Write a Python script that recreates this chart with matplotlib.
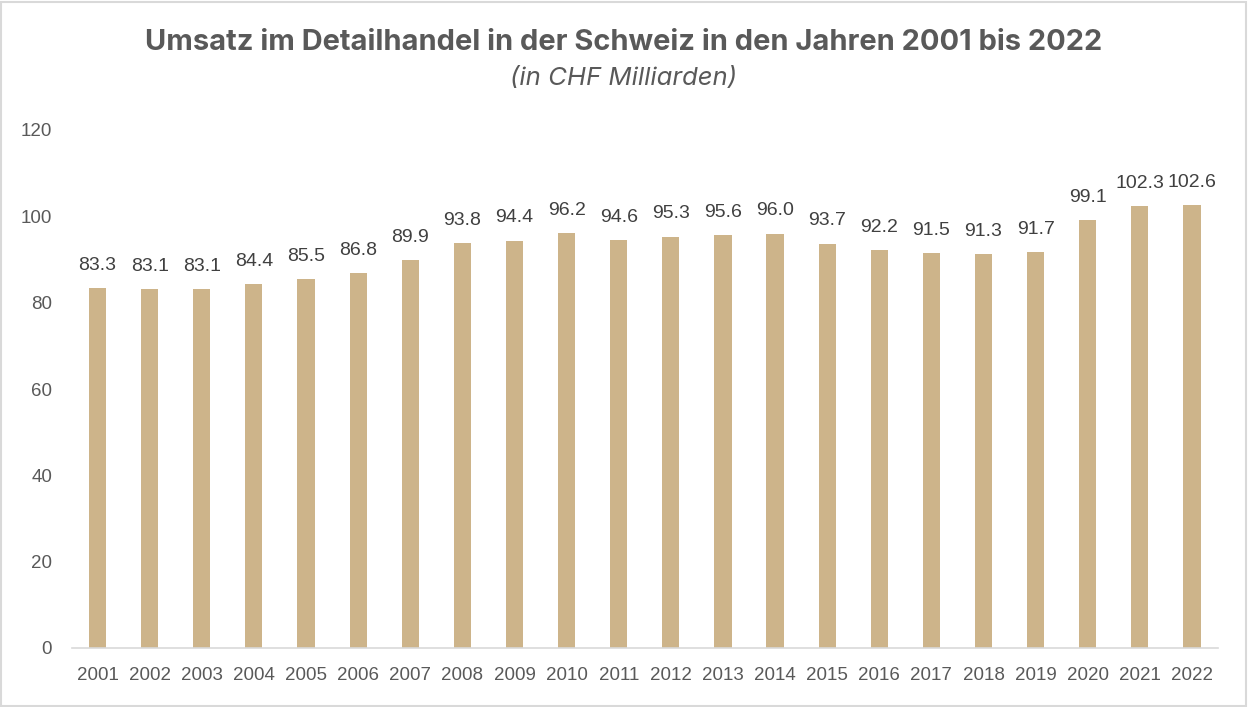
import matplotlib.pyplot as plt
from matplotlib.patches import Rectangle

years = [str(y) for y in range(2001, 2023)]
umsatz = [83.3, 83.1, 83.1, 84.4, 85.5, 86.8, 89.9, 93.8, 94.4, 96.2, 94.6,
          95.3, 95.6, 96.0, 93.7, 92.2, 91.5, 91.3, 91.7, 99.1, 102.3, 102.6]
yticks = [0, 20, 40, 60, 80, 100, 120]

bar_color = '#CDB48A'
text_color = '#595959'

fig = plt.figure(figsize=(12.48, 7.07), dpi=100)
ax = fig.add_axes([71.5 / 1248, 1 - 648 / 707, (1218 - 71.5) / 1248, (648 - 130) / 707])

x = range(len(years))
bars = ax.bar(x, umsatz, width=0.33, color=bar_color, zorder=2)
ax.set_xlim(-0.5, len(years) - 0.5)
ax.set_ylim(0, 120)

for i, v in enumerate(umsatz):
    ax.text(i, v + 4.2, f'{v:.1f}', ha='center', va='baseline',
            fontsize=14, color='#404040', family='Liberation Sans')

ax.set_xticks(list(x))
ax.set_xticklabels(years, fontsize=13.5, color=text_color, family='Liberation Sans')
ax.set_yticks(yticks)
ax.set_yticklabels([str(t) for t in yticks], fontsize=13.5, color=text_color,
                   family='Liberation Sans')
ax.tick_params(axis='both', length=0)
ax.tick_params(axis='x', pad=14)
ax.tick_params(axis='y', pad=14)

for s in ['top', 'right', 'left']:
    ax.spines[s].set_visible(False)
ax.spines['bottom'].set_color('#D9D9D9')
ax.spines['bottom'].set_linewidth(1.2)

fig.text(0.5, 1 - 42 / 707, 'Umsatz im Detailhandel in der Schweiz in den Jahren 2001 bis 2022',
         ha='center', va='center', fontsize=20.9, fontweight='bold', color=text_color,
         family='Inter')
fig.text(0.5, 1 - 78 / 707, '(in CHF Milliarden)', ha='center', va='center',
         fontsize=18.5, style='italic', color=text_color, family='Inter')

fig.patches.append(Rectangle((0.001, 0.002), 0.997, 0.995, transform=fig.transFigure,
                             fill=False, edgecolor='#D9D9D9', linewidth=1.5))

fig.savefig('out.png', dpi=100)
